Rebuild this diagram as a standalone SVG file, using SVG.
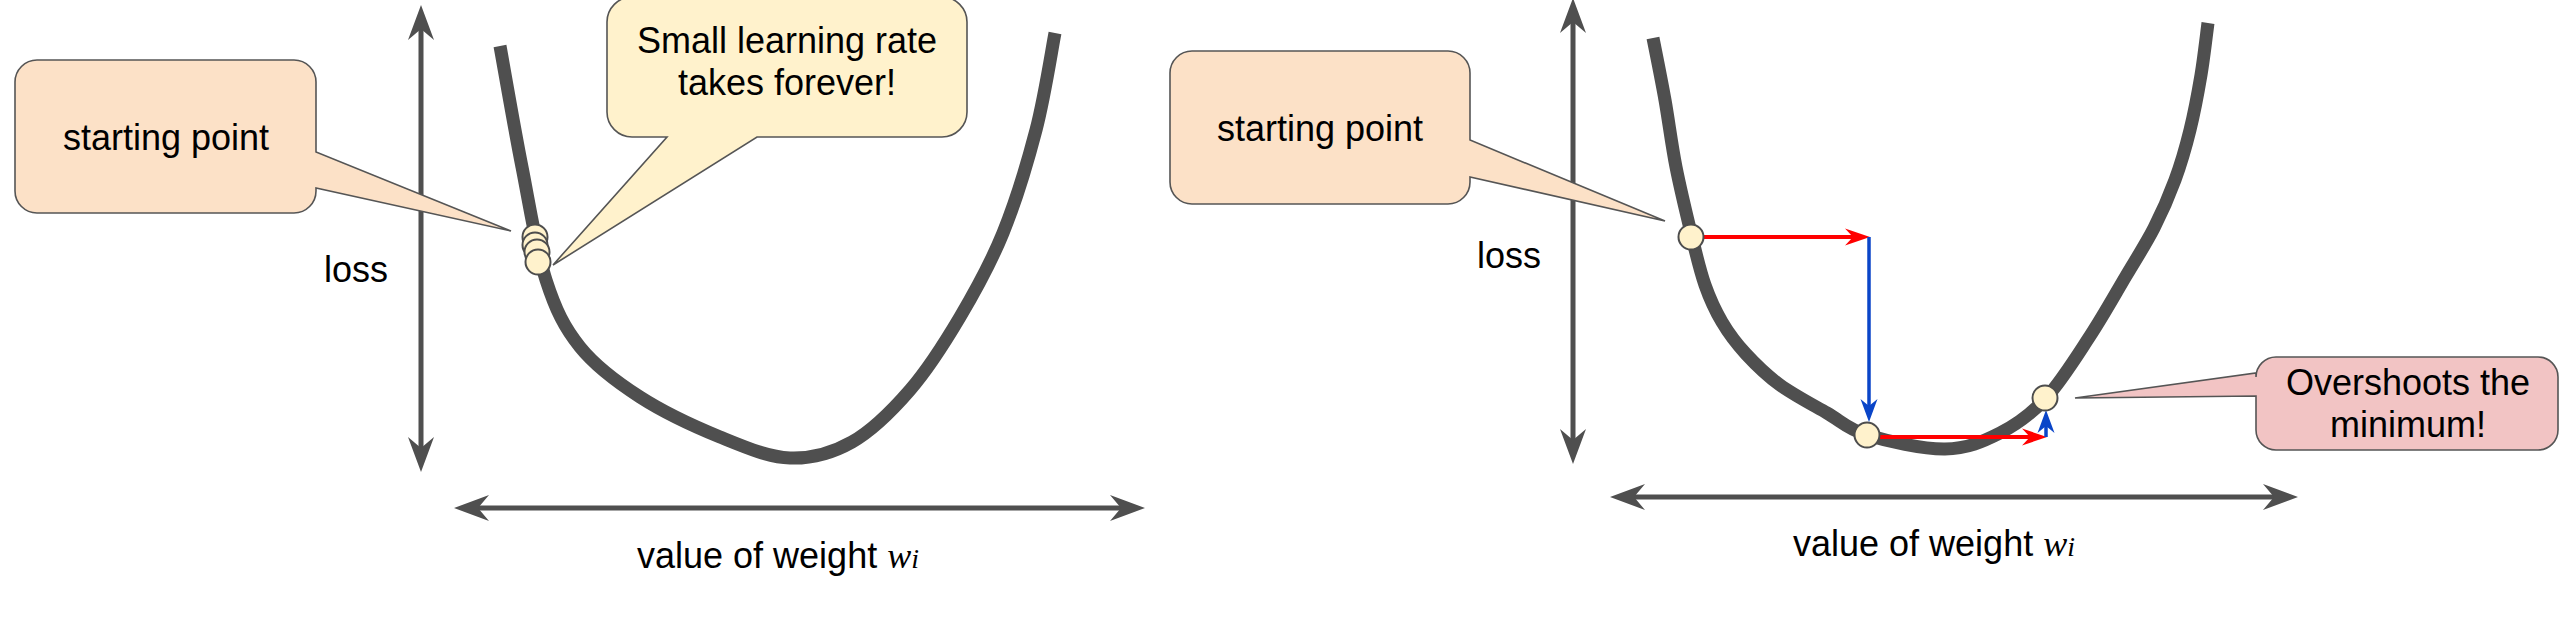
<svg xmlns="http://www.w3.org/2000/svg" width="2572" height="624" viewBox="0 0 2572 624">
<style>
.axis{fill:none;stroke:#4f4f4f;stroke-width:5;marker-start:url(#axisHead);marker-end:url(#axisHead)}
.curve{fill:none;stroke:#4f4f4f;stroke-width:13;stroke-linecap:butt;stroke-linejoin:round}
.dot{fill:#FFF2CC;stroke:#4d4d4d;stroke-width:2}
.callout{stroke:#555555;stroke-width:1.6}
.lbl{font-family:"Liberation Sans",Arial,sans-serif;font-size:36px;fill:#000000}
.mid{text-anchor:middle}
.red{fill:none;stroke:#FF0000;stroke-width:4;marker-end:url(#redHead)}
.blue{fill:none;stroke:#0A45C8;stroke-width:3.5;marker-end:url(#blueHead)}
.math{font-family:"Liberation Serif","Times New Roman",serif;font-style:italic}
</style>
<defs>
<marker id="axisHead" viewBox="-12 -14 37 28" refX="0" refY="0" markerWidth="37" markerHeight="28" markerUnits="userSpaceOnUse" orient="auto-start-reverse">
<path d="M24,0 L-11,-13 L0,0 L-11,13 Z" fill="#4f4f4f"/>
</marker>
<marker id="redHead" viewBox="-9 -10 27 20" refX="0" refY="0" markerWidth="27" markerHeight="20" markerUnits="userSpaceOnUse" orient="auto">
<path d="M17,0 L-8,-8.5 L0,0 L-8,8.5 Z" fill="#FF0000"/>
</marker>
<marker id="blueHead" viewBox="-8 -10 25 20" refX="0" refY="0" markerWidth="25" markerHeight="20" markerUnits="userSpaceOnUse" orient="auto">
<path d="M16,0 L-7,-8.5 L0,0 L-7,8.5 Z" fill="#0A45C8"/>
</marker>
</defs>

<!-- LEFT PANEL -->
<g id="left-axes">
<line class="axis" x1="421" y1="29" x2="421" y2="448"/>
<line class="axis" x1="478" y1="508" x2="1121" y2="508"/>
</g>
<g id="left-loss-label"><text class="lbl" x="324" y="282">loss</text></g>
<g id="left-weight-label"><text class="lbl" x="637" y="568">value of weight <tspan class="math">w</tspan><tspan class="math" font-size="28">i</tspan></text></g>
<g id="left-curve">
<path class="curve" d="M500,46 C503.7,66.2 514.3,128 522,167 C529.7,206 536.3,250 546,280 C555.7,310 564.3,327.5 580,347 C595.7,366.5 616.7,382 640,397 C663.3,412 695,426.8 720,437 C745,447.2 768,457.2 790,458 C812,458.8 832,453.3 852,442 C872,430.7 892,410.8 910,390 C928,369.2 944.5,343.2 960,317 C975.5,290.8 990.3,264.2 1003,233 C1015.7,201.8 1027.3,163.3 1036,130 C1044.7,96.7 1051.8,49.2 1055,33"/>
</g>
<g id="left-start-callout">
<path class="callout" fill="#FCE1C7" d="M37,60 H294 A22,22 0 0 1 316,82 V152 L511,231 L316,188 V191 A22,22 0 0 1 294,213 H37 A22,22 0 0 1 15,191 V82 A22,22 0 0 1 37,60 Z"/>
<text class="lbl mid" x="166" y="150">starting point</text>
</g>
<g id="left-small-lr-callout">
<path class="callout" fill="#FFF2CC" d="M632,-3 H942 A25,25 0 0 1 967,22 V112 A25,25 0 0 1 942,137 H757 L553,265 L667,137 H632 A25,25 0 0 1 607,112 V22 A25,25 0 0 1 632,-3 Z"/>
<text class="lbl mid" x="787" y="53">Small learning rate</text>
<text class="lbl mid" x="787" y="95">takes forever!</text>
</g>
<g id="left-points">
<circle class="dot" cx="535" cy="237" r="12.5"/>
<circle class="dot" cx="535" cy="245" r="12.5"/>
<circle class="dot" cx="537" cy="252" r="12.5"/>
<circle class="dot" cx="538" cy="262" r="12.5"/>
</g>

<!-- RIGHT PANEL -->
<g id="right-axes">
<line class="axis" x1="1573" y1="22" x2="1573" y2="440"/>
<line class="axis" x1="1634" y1="497" x2="2274" y2="497"/>
</g>
<g id="right-loss-label"><text class="lbl" x="1477" y="268">loss</text></g>
<g id="right-weight-label"><text class="lbl" x="1793" y="556">value of weight <tspan class="math">w</tspan><tspan class="math" font-size="28">i</tspan></text></g>
<g id="right-curve">
<path class="curve" d="M1653,38 C1655,48.3 1661.2,78.5 1665,100 C1668.8,121.5 1671.5,144.2 1676,167 C1680.5,189.8 1687.2,217.3 1692,237 C1696.8,256.7 1700,270.8 1705,285 C1710,299.2 1715.2,310.5 1722,322 C1728.8,333.5 1736.3,343.5 1746,354 C1755.7,364.5 1766.5,375.2 1780,385 C1793.5,394.8 1812.5,404.7 1827,413 C1841.5,421.3 1847.3,429 1867,435 C1886.7,441 1922.8,449.3 1945,449 C1967.2,448.7 1983.2,441.5 2000,433 C2016.8,424.5 2031,414.2 2046,398 C2061,381.8 2076.7,356.3 2090,336 C2103.3,315.7 2115.3,294 2126,276 C2136.7,258 2145.8,244 2154,228 C2162.2,212 2169,196.3 2175,180 C2181,163.7 2185.7,147.5 2190,130 C2194.3,112.5 2198,92.8 2201,75 C2204,57.2 2206.8,31.7 2208,23"/>
</g>
<g id="right-start-callout">
<path class="callout" fill="#FCE1C7" d="M1192,51 H1448 A22,22 0 0 1 1470,73 V140 L1665,221 L1470,177 V182 A22,22 0 0 1 1448,204 H1192 A22,22 0 0 1 1170,182 V73 A22,22 0 0 1 1192,51 Z"/>
<text class="lbl mid" x="1320" y="141">starting point</text>
</g>
<g id="right-overshoot-callout">
<path class="callout" fill="#F2C4C4" d="M2276,357 H2538 A20,20 0 0 1 2558,377 V430 A20,20 0 0 1 2538,450 H2276 A20,20 0 0 1 2256,430 V396 L2075,398 L2256,373 V377 A20,20 0 0 1 2276,357 Z"/>
<text class="lbl mid" x="2408" y="395">Overshoots the</text>
<text class="lbl mid" x="2408" y="437">minimum!</text>
</g>
<g id="connectors">
<line class="red" x1="1703" y1="237" x2="1853" y2="237"/>
<line class="blue" x1="1869" y1="237" x2="1869" y2="406"/>
<line class="red" x1="1879" y1="437" x2="2030" y2="437"/>
<line class="blue" x1="2046" y1="437" x2="2046" y2="426"/>
</g>
<g id="right-points">
<circle class="dot" cx="1691" cy="237" r="12.5"/>
<circle class="dot" cx="1867" cy="435" r="12.5"/>
<circle class="dot" cx="2045" cy="398" r="12.5"/>
</g>
</svg>
